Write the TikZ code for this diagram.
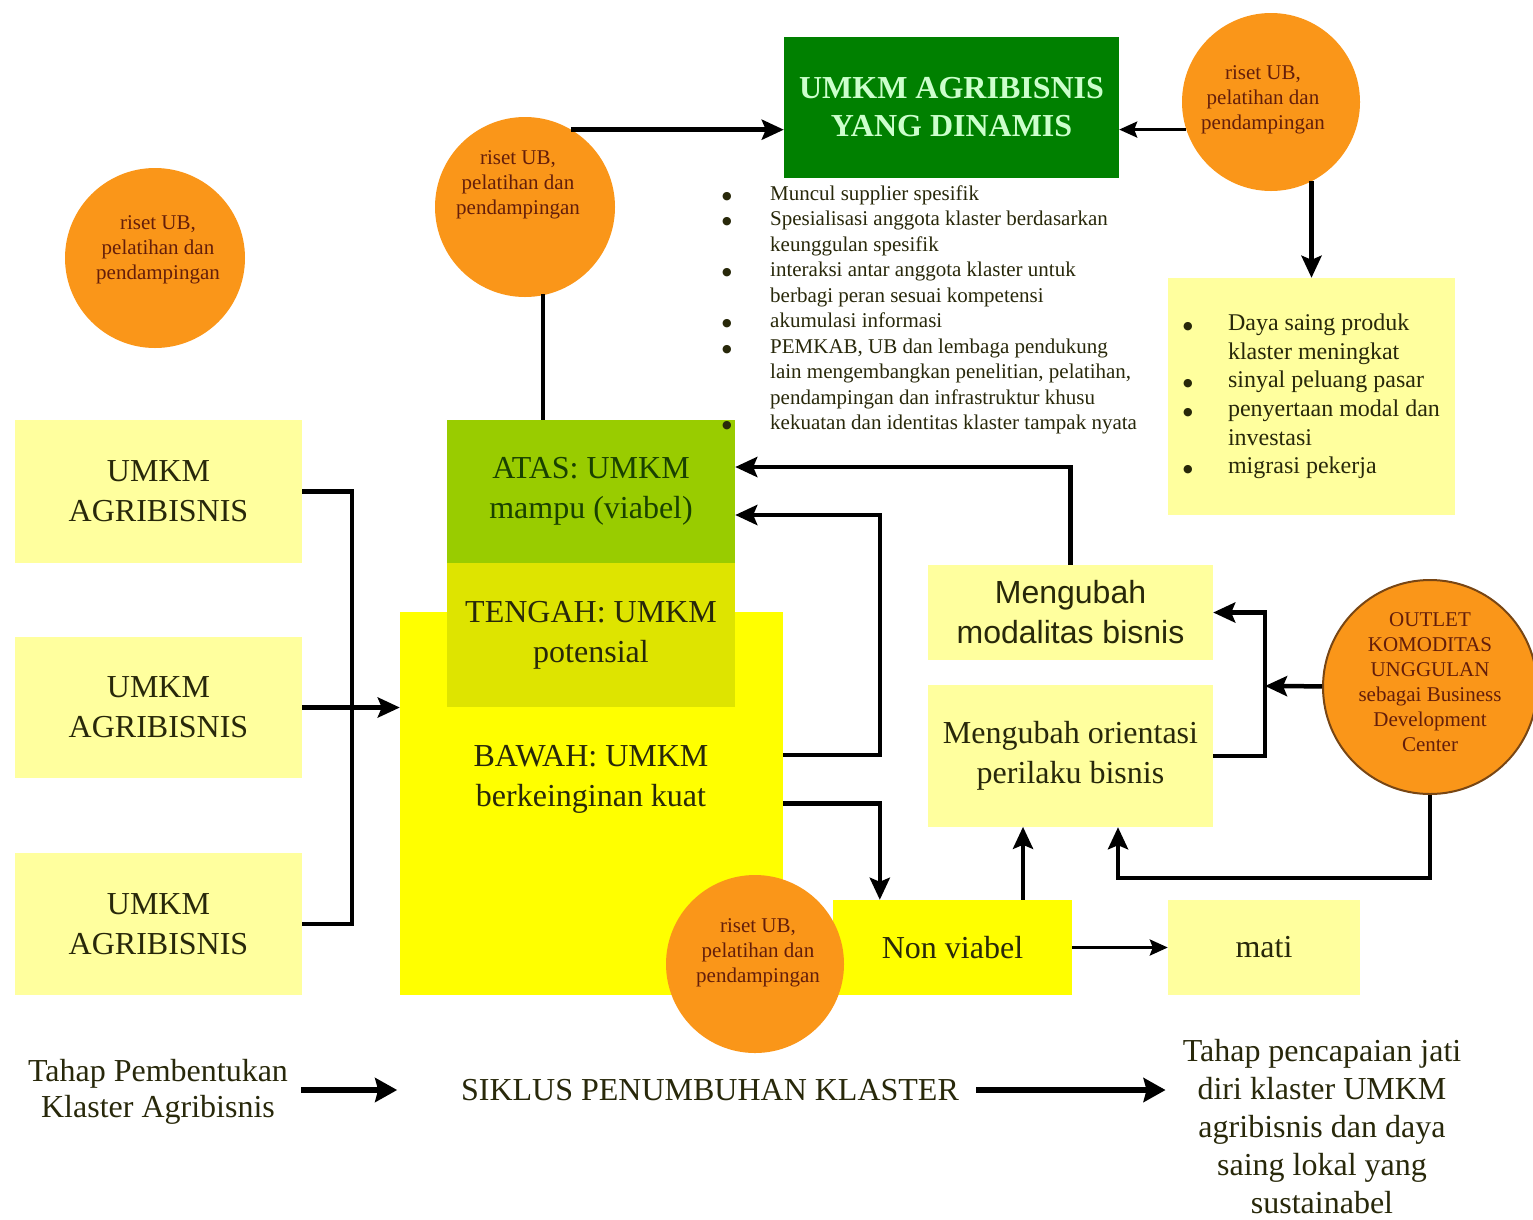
\documentclass[tikz,border=0pt]{standalone}
\usepackage{fontspec}
\setmainfont{Liberation Serif}
\newfontfamily\arialfont{Liberation Sans}
\newfontfamily\dotfont{DejaVu Sans}
\usetikzlibrary{arrows.meta}
\definecolor{LightYel}{RGB}{255,255,158}
\definecolor{BrightYel}{RGB}{255,255,0}
\definecolor{AtasCol}{RGB}{153,204,0}
\definecolor{TengahCol}{RGB}{222,228,0}
\definecolor{DarkGreen}{RGB}{0,128,0}
\definecolor{PaleGreen}{RGB}{204,255,204}
\definecolor{OrangeCol}{RGB}{250,150,25}
\definecolor{OutlineCol}{RGB}{120,70,20}
\definecolor{TextCol}{RGB}{40,40,10}
\definecolor{AtasText}{RGB}{25,65,0}
\definecolor{CircText}{RGB}{100,30,10}
\newcommand{\listdot}{{\dotfont\fontsize{11}{11}\selectfont\raisebox{1pt}{●}}}
\tikzstyle{box} = [rectangle, inner sep=0pt, align=center, text=TextCol, font=\fontsize{32}{40}\selectfont]
\tikzstyle{listbox} = [rectangle, inner sep=0pt, text=TextCol]
\tikzstyle{circ} = [circle, fill=OrangeCol, inner sep=0pt, minimum size=180pt]
\tikzstyle{circtext} = [inner sep=0pt, align=center, text=CircText, font=\fontsize{21}{25}\selectfont]
\tikzstyle{conn} = [line width=4.5pt]
\tikzstyle{thinconn} = [line width=3pt]
\tikzstyle{arr} = [-{Stealth[length=22pt,width=20pt,inset=4pt]}]
\tikzstyle{smallarr} = [-{Stealth[length=18pt,width=16pt,inset=3pt]}]
\tikzstyle{bigarr} = [line width=6pt, -{Stealth[length=22pt,width=24pt,inset=3pt]}]

\begin{document}
\begin{tikzpicture}[x=1pt,y=-1pt]
\useasboundingbox (0,0) rectangle (1533,1219);

% top
\node[box, fill=DarkGreen, text=PaleGreen, font=\bfseries\fontsize{32}{38}\selectfont,
      minimum width=335pt, minimum height=141pt] (dyn) at (951.5,107.5) {UMKM AGRIBISNIS\\YANG DINAMIS};
\node[circ] (rl) at (155,258) {};
\node[circtext] (rltext) at (158,250) {riset UB,\\pelatihan dan\\pendampingan};
\node[circ] (rm) at (525,207) {};
\node[circtext] (rmtext) at (518,185) {riset UB,\\pelatihan dan\\pendampingan};
\node[circ, minimum size=178pt] (rt) at (1271,102) {};
\node[circtext] (rttext) at (1263,100) {riset UB,\\pelatihan dan\\pendampingan};

\node[listbox, fill=LightYel, minimum width=287pt, minimum height=237pt,
      font=\fontsize{24}{28.6}\selectfont] (rlist) at (1311.5,396.5) {%
\begin{tabular}{@{}p{45pt}@{}l@{}}
\listdot & Daya saing produk\\
 & klaster meningkat\\
\listdot & sinyal peluang pasar\\
\listdot & penyertaan modal dan\\
 & investasi\\
\listdot & migrasi pekerja
\end{tabular}};

% left column
\node[box, fill=LightYel, minimum width=287pt, minimum height=143pt] (u1) at (158.5,491.5) {UMKM\\AGRIBISNIS};
\node[box, fill=LightYel, minimum width=287pt, minimum height=141pt] (u2) at (158.5,707.5) {UMKM\\AGRIBISNIS};
\node[box, fill=LightYel, minimum width=287pt, minimum height=142pt] (u3) at (158.5,924) {UMKM\\AGRIBISNIS};

% cluster levels
\node[box, fill=BrightYel, minimum width=383pt, minimum height=383pt] (bawah) at (591.5,803.5) {};
\node[box, fill=AtasCol, text=AtasText, minimum width=288pt, minimum height=143pt] (atas) at (591,491.5) {ATAS: UMKM\\mampu (viabel)};
\node[box, fill=TengahCol, minimum width=288pt, minimum height=144pt] (tengah) at (591,635) {TENGAH: UMKM\\potensial};
\node[box] (bawahtext) at (591,779) {BAWAH: UMKM\\berkeinginan kuat};

% features of the dynamic cluster
\node[listbox, anchor=west, font=\fontsize{21}{25.5}\selectfont] (ciri) at (722,310) {%
\begin{tabular}{@{}p{48pt}@{}l@{}}
\listdot & Muncul supplier spesifik\\
\listdot & Spesialisasi anggota klaster berdasarkan\\
 & keunggulan spesifik\\
\listdot & interaksi antar anggota klaster untuk\\
 & berbagi peran sesuai kompetensi\\
\listdot & akumulasi informasi\\
\listdot & PEMKAB, UB dan lembaga pendukung\\
 & lain mengembangkan penelitian, pelatihan,\\
 & pendampingan dan infrastruktur khusu\\
\listdot & kekuatan dan identitas klaster tampak nyata
\end{tabular}};

% right side
\node[box, fill=LightYel, font=\arialfont\fontsize{32}{40}\selectfont,
      minimum width=285pt, minimum height=95pt] (mod) at (1070.5,612.5) {Mengubah\\modalitas bisnis};
\node[box, fill=LightYel, minimum width=285pt, minimum height=142pt] (orient) at (1070.5,756) {Mengubah orientasi\\perilaku bisnis};
\node[box, fill=BrightYel, minimum width=239pt, minimum height=95pt] (nonv) at (952.5,947.5) {Non viabel};
\node[box, fill=LightYel, minimum width=192pt, minimum height=95pt] (mati) at (1264,947.5) {mati};
\node[circ, minimum size=214pt, draw=OutlineCol, line width=2pt] (outlet) at (1430,687) {};
\node[circtext] (outlettext) at (1430,682) {OUTLET\\KOMODITAS\\UNGGULAN\\sebagai Business\\Development\\Center};
\node[circ, minimum size=178pt] (rb) at (755,964) {};
\node[circtext] (rbtext) at (758,953) {riset UB,\\pelatihan dan\\pendampingan};

% bottom row
\node[box, font=\fontsize{32}{36}\selectfont] (tahap1) at (158,1092) {Tahap Pembentukan\\Klaster Agribisnis};
\node[box] (siklus) at (710,1090) {SIKLUS PENUMBUHAN KLASTER};
\node[box, font=\fontsize{32}{38}\selectfont] (tahap2) at (1322,1127) {Tahap pencapaian jati\\diri klaster UMKM\\agribisnis dan daya\\saing lokal yang\\sustainabel};

\coordinate (jl) at (352,707.5);
\coordinate (jr) at (1265,686);

% connectors
\draw[conn] (u1.east) -| (jl) |- (u3.east);
\draw[conn,arr] (u2.east) -- (u2.east -| bawah.west);
\draw[conn] ([xshift=-48pt]atas.north) -- ++(0,-126);
\draw[conn,arr] (rm.59) -- (rm.59 -| dyn.west);
\draw[thinconn,smallarr] (rt.198) -- (rt.198 -| dyn.east);
\draw[conn,arr] (rt.297) -- (rt.297 |- rlist.north);
\draw[conn,arr] ([yshift=48.5pt]bawah.east) -- ++(97,0) |- ([yshift=-23.5pt]atas.east);
\draw[conn,arr] (mod.north) |- ([yshift=24.5pt]atas.east);
\draw[conn,arr] (bawah.east) -| ([xshift=47pt]nonv.north west);
\draw[conn,arr] ([xshift=70.5pt]nonv.north) -- ++(0,-73);
\draw[conn,arr] (outlet.south) -- ++(0,83) -| ([xshift=47.5pt]orient.south);
\draw[conn,arr] (orient.east) -| (jr) |- (mod.east);
\draw[conn,arr] (outlet) -- (jr);
\draw[thinconn,smallarr] (nonv) -- (mati);
\draw[bigarr] ([xshift=13pt]tahap1.east |- siklus.east) -- ++(96,0);
\draw[bigarr, shorten >=17pt] ([xshift=17pt]siklus.east) -- (siklus.east -| tahap2.west);
\end{tikzpicture}
\end{document}
